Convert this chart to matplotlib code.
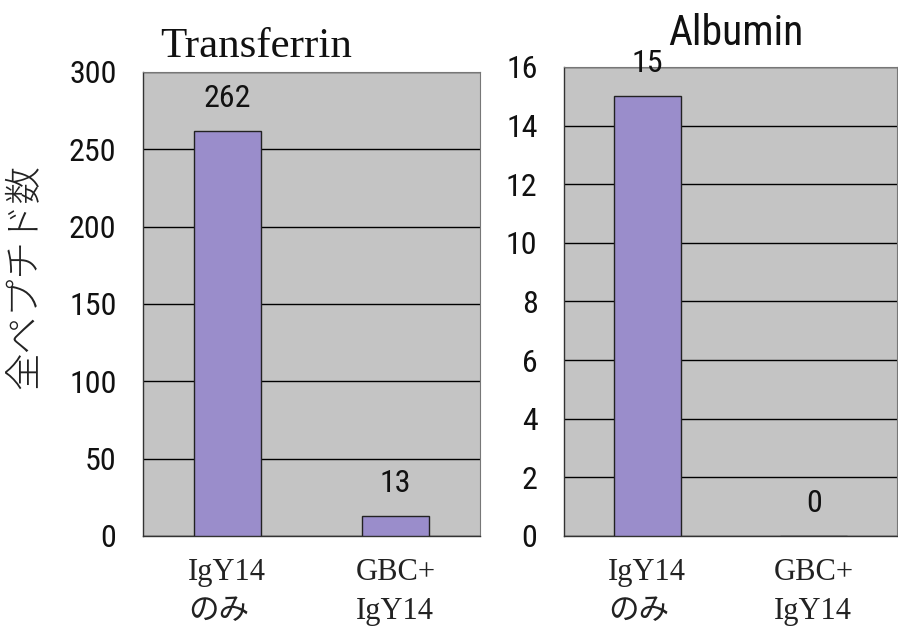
import matplotlib
matplotlib.use("Agg")
import matplotlib.pyplot as plt
from matplotlib import font_manager
import numpy as np

# data
CATEGORIES    = ["IgY14\nのみ", "GBC+\nIgY14"]
TRANSFERRIN   = [262, 13]
ALBUMIN       = [15, 0]
TF_TICKS      = [0, 50, 100, 150, 200, 250, 300]
ALB_TICKS     = [0, 2, 4, 6, 8, 10, 12, 14, 16]
YLABEL        = "全ペプチド数"

BAR_COLOR  = "#9a8dcb"
FACE_COLOR = "#c4c4c4"

# a narrow sans for the numbers, whatever is installed
installed = {f.name for f in font_manager.fontManager.ttflist}
narrow_candidates = ["Liberation Sans Narrow", "Arial Narrow", "Roboto Condensed",
                     "Open Sans Condensed", "DejaVu Sans Condensed"]
narrow = [n for n in narrow_candidates if n in installed]
if narrow:
    NARROW = dict(family=[narrow[0], "DejaVu Sans"])
else:
    NARROW = dict(family=["DejaVu Sans"], stretch="condensed")
MINCHO = dict(family=["Liberation Serif", "Noto Sans CJK JP"])

fig = plt.figure(figsize=(8.98, 6.29), dpi=100)
fig.patch.set_facecolor("white")

ax1 = fig.add_axes([0.1592, 0.1479, 0.3753, 0.7377])
ax2 = fig.add_axes([0.628, 0.1479, 0.371, 0.7456])


def draw_panel(ax, vals, ticks):
    x = np.arange(len(vals))
    ax.set_facecolor(FACE_COLOR)
    ax.set_axisbelow(True)
    ax.yaxis.grid(True, color="black", linewidth=1.0)
    ax.bar(x, vals, width=0.4, color=BAR_COLOR, edgecolor="#222222", linewidth=1.0, zorder=3)
    for xi, v in zip(x, vals):
        ax.annotate(f"{v}", (xi, v), xytext=(0, 13), textcoords="offset points",
                    ha="center", va="bottom", fontsize=23, color="#111111",
                    annotation_clip=False, zorder=4, **NARROW)
    ax.set_xlim(-0.5, len(vals) - 0.5)
    ax.set_ylim(ticks[0], ticks[-1])
    ax.set_yticks(ticks)
    ax.set_yticklabels([str(t) for t in ticks], fontsize=23, color="#111111", **NARROW)
    ax.set_xticks(x)
    ax.set_xticklabels(CATEGORIES, fontsize=22, color="#222222", linespacing=1.45,
                       va="top", multialignment="left", **MINCHO)
    ax.tick_params(axis="y", length=0, pad=19)
    ax.tick_params(axis="x", length=0, pad=16)
    for side in ["top", "right"]:
        ax.spines[side].set_color("#777777")
        ax.spines[side].set_linewidth(0.8)
    for side in ["left", "bottom"]:
        ax.spines[side].set_color("#333333")
        ax.spines[side].set_linewidth(1.0)


draw_panel(ax1, TRANSFERRIN, TF_TICKS)
draw_panel(ax2, ALBUMIN, ALB_TICKS)

fig.text(160 / 898, 1 - 57 / 629, "Transferrin", fontsize=31, family=["Liberation Serif"],
         ha="left", va="baseline", color="#111111")
fig.text(668 / 898, 1 - 45 / 629, "Albumin", fontsize=30,
         ha="left", va="baseline", color="#111111", **NARROW)

fig.text(25 / 898, 1 - 277 / 629, YLABEL, fontsize=27, family=["Noto Sans CJK JP"],
         weight="light", rotation=90, ha="center", va="center", color="#222222")

fig.savefig("out.png", dpi=100, facecolor="white")
